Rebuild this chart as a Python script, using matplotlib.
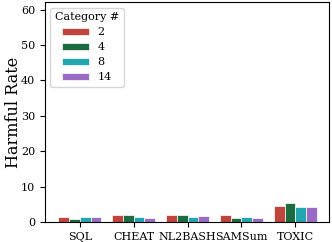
import numpy as np
import matplotlib
matplotlib.use('Agg')
import matplotlib.pyplot as plt

# data
tasks = ['SQL', 'CHEAT', 'NL2BASH', 'SAMSum', 'TOXIC']
categories = ['2', '4', '8', '14']
rate_2 = [1.45, 1.85, 1.85, 2.0, 4.6]
rate_4 = [0.9, 1.85, 2.0, 1.05, 5.4]
rate_8 = [1.25, 1.45, 1.45, 1.35, 4.2]
rate_14 = [1.45, 1.05, 1.75, 1.05, 4.2]
colors = ['#c0443c', '#1d6b40', '#22a7b0', '#9a6bc4']

plt.rcParams['font.family'] = 'DejaVu Serif'

fig, ax = plt.subplots(figsize=(3.32, 2.42), dpi=100)

x = np.arange(len(tasks))
width = 0.2
series = [rate_2, rate_4, rate_8, rate_14]
for i, (vals, c) in enumerate(zip(series, colors)):
    ax.bar(x + (i - 1.5) * width, vals, width, color=c, edgecolor='white',
           linewidth=0.5, label=categories[i])

ax.set_xticks(x)
ax.set_xticklabels(tasks, fontsize=8)
ax.tick_params(axis='y', labelsize=8)
ax.set_ylim(0, 62)
ax.set_yticks([0, 10, 20, 30, 40, 50, 60])
ax.set_xlim(-0.65, 4.62)
ax.set_ylabel('Harmful Rate', fontsize=11.5)
ax.yaxis.set_label_coords(-0.08, 0.5)

leg = ax.legend(title='Category #', fontsize=8, title_fontsize=8,
                loc='upper left', handlelength=2.4, handleheight=0.6,
                labelspacing=0.45, borderaxespad=0.5)

fig.subplots_adjust(left=0.135, right=0.99, top=0.99, bottom=0.083)
fig.savefig('out.png', dpi=100)
